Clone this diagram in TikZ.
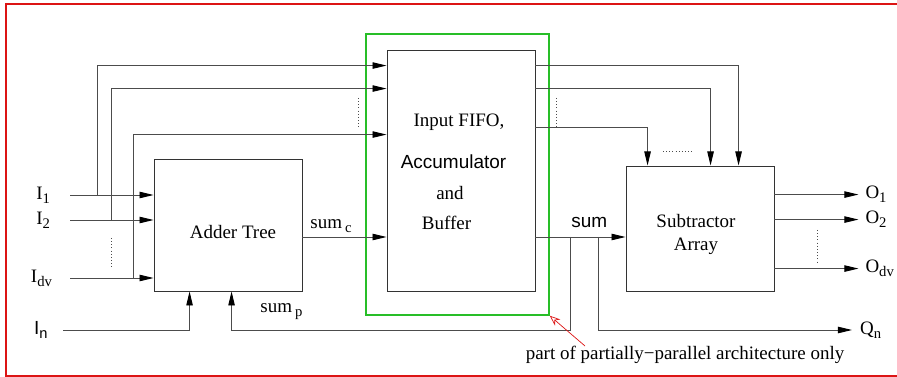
\documentclass[tikz,border=0pt]{standalone}
\usepackage{fontspec}
\setmainfont{Liberation Serif}
\setsansfont{Liberation Sans}
\usetikzlibrary{arrows.meta, positioning, calc}

\definecolor{frame}{RGB}{220,20,20}
\definecolor{part}{RGB}{40,190,40}

% lowered subscript as in the drawing
\newcommand{\lowsub}[1]{\raisebox{-0.45ex}{\fontsize{12.5}{13}\selectfont #1}}

\begin{document}
\begin{tikzpicture}[
        x=0.03cm, y=-0.03cm,
        font=\fontsize{16.2}{19}\selectfont,
        blk/.style={rectangle, draw=black!80, line width=0.75pt, minimum width=4.44cm},
        arr/.style={-{Triangle[length=12pt, width=5.5pt, color=black]}, draw=black!70, line width=0.8pt},
        dots/.style={dotted, line width=0.7pt, draw=black!70},
        lbl/.style={inner sep=1pt},
        grn/.style={rectangle, draw=part, line width=1.2pt, minimum width=5.49cm, minimum height=8.43cm},
        note/.style={-{Stealth[open, length=9pt, width=7pt]}, draw=frame, line width=0.6pt}
    ]
    \useasboundingbox (0,0) rectangle (897,377);
    \draw[frame, line width=1.1pt] (905,4) -- (6,4) -- (6,376) -- (905,376);

    % blocks
    \node[blk, minimum height=3.96cm] (adder) at (228,225) {};
    \node[blk, minimum height=7.23cm] (fifo) at (461,170.5) {};
    \node[blk, minimum height=3.75cm] (sub) at (700,228.5) {};
    \node[grn] (parallel) at (457.5,174.5) {};

    \node (addertxt) at (233,232) {Adder Tree};
    \node (fifo1) at (459,122) {Input FIFO,};
    \node (fifo2) at (453.5,162) {\sffamily Accumulator};
    \node (fifo3) at (450,193) {and};
    \node (fifo4) at (446.5,223) {Buffer};
    \node[align=center] (subtxt) at (696,234.5) {Subtractor\\[1pt]Array};

    % inputs
    \coordinate (s1) at (70,195);
    \coordinate (s2) at (70,220);
    \coordinate (sdv) at (70,278);
    \coordinate (sn) at (63,330);
    \node[lbl, left=0.56cm of s1] (i1) {I\lowsub{1}};
    \node[lbl, left=0.56cm of s2] (i2) {I\lowsub{2}};
    \node[lbl, left=0.5cm of sdv] (idv) {I\lowsub{dv}};
    \node[lbl, left=0.42cm of sn] (in) {\sffamily I\lowsub{\sffamily n}};

    \draw[arr] (s1) -- (adder.west |- s1);
    \draw[arr] (s2) -- (adder.west |- s2);
    \draw[arr] (sdv) -- (adder.west |- sdv);
    \draw[dots] (111,238) -- (111,269);

    \draw[arr] ($(s1)+(27,0)$) |- ($(fifo.north west)+(0,16)$);
    \draw[arr] ($(s2)+(41,0)$) |- ($(fifo.north west)+(0,39)$);
    \draw[arr] ($(sdv)+(63,0)$) |- ($(fifo.north west)+(0,85)$);
    \draw[dots] (358,98) -- (358,129);

    % sums
    \coordinate (ysum) at (0,237);
    \coordinate (ybot) at (0,330);
    \draw[arr] (adder.east |- ysum) -- (fifo.west |- ysum);
    \node[lbl, anchor=base west] (sumc) at (309,229) {sum\,\lowsub{c}};
    \draw[arr] (fifo.east |- ysum) -- (sub.west |- ysum);
    \node[lbl, anchor=base west] (sum) at (570,228) {\sffamily sum};

    \coordinate (jp) at (570,237);
    \coordinate (jq) at (598,237);
    \coordinate (pin) at ($(adder.south west)+(78,0)$);
    \coordinate (nin) at ($(adder.south west)+(36,0)$);
    \draw[arr] (jp) |- (pin |- ybot) -- (pin);
    \node[lbl, anchor=base west] (sump) at (259,313) {sum\,\lowsub{p}};
    \draw[arr] (sn) -| (nin);

    \coordinate (qend) at (852,330);
    \draw[arr] (jq) |- (qend);
    \node[lbl, right=0.2cm of qend] (qn) {Q\lowsub{n}};

    % fifo to subtractor
    \draw[arr] ($(fifo.north east)+(0,16)$) -| ($(sub.north west)+(113,0)$);
    \draw[arr] ($(fifo.north east)+(0,39)$) -| ($(sub.north west)+(85,0)$);
    \draw[arr] ($(fifo.north east)+(0,78)$) -| ($(sub.north west)+(22,0)$);
    \draw[dots] (556,98) -- (556,128);
    \draw[dots] (663,151) -- (693,151);

    % outputs
    \coordinate (e1) at ($(sub.north east)+(84,29)$);
    \coordinate (e2) at ($(sub.north east)+(84,54)$);
    \coordinate (edv) at ($(sub.north east)+(84,103)$);
    \draw[arr] (sub.east |- e1) -- (e1);
    \draw[arr] (sub.east |- e2) -- (e2);
    \draw[arr] (sub.east |- edv) -- (edv);
    \draw[dots] (817,230) -- (817,262);
    \node[lbl, right=0.17cm of e1] (o1) {O\lowsub{1}};
    \node[lbl, right=0.17cm of e2] (o2) {O\lowsub{2}};
    \node[lbl, right=0.17cm of edv] (odv) {O\lowsub{dv}};

    % annotation
    \node (notetxt) at (685,355) {part of partially−parallel architecture only};
    \coordinate (nt) at (585,346);
    \draw[note] (nt) -- (parallel.south east);

\end{tikzpicture}
\end{document}
